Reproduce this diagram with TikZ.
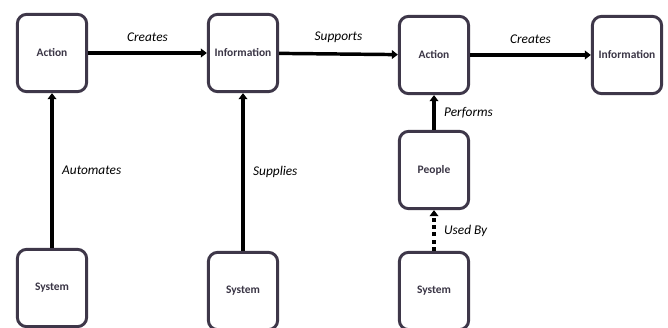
\documentclass[tikz,border=0pt]{standalone}
\usepackage{fontspec}
\setmainfont{Carlito}
\usetikzlibrary{arrows.meta,positioning}
\definecolor{boxline}{HTML}{3E3749}
\definecolor{boxtext}{HTML}{3A3545}
\tikzset{
  box/.style={draw=boxline, line width=2.2pt, rounded corners=7pt,
    minimum width=52pt, minimum height=58pt, inner sep=0pt,
    text=boxtext, font=\bfseries\fontsize{8.6}{10}\selectfont},
  link/.style={line width=2.6pt, -{Triangle[length=4.5pt,width=6.5pt]}},
  dotlink/.style={link, dash pattern=on 3pt off 2.5pt},
  lbl/.style={font=\itshape\fontsize{10}{12}\selectfont}
}
\begin{document}
\begin{tikzpicture}[x=0.75pt,y=-0.75pt]
  \useasboundingbox (0,0) rectangle (668,328);
  % top row
  \node[box] (act1) at (52,53) {Action};
  \node[box] (info1) at (243,53) {Information};
  \node[box] (act2) at (434,55) {Action};
  \node[box] (info2) at (627,55) {Information};
  % people and systems
  \node[box] (ppl) at (434,170) {People};
  \node[box] (sys1) at (52,288) {System};
  \node[box] (sys2) at (243,291) {System};
  \node[box] (sys3) at (434,291) {System};

  \draw[link](act1)--(info1)node[midway, above=4pt, lbl]{Creates};
  \draw[link](info1)--(act2)node[midway, above=4pt, lbl]{Supports};
  \draw[link](act2)--(info2)node[midway, above=4pt, lbl]{Creates};
  \draw[link](sys1)--(act1)node[midway, right=3pt, lbl]{Automates};
  \draw[link](sys2)--(info1)node[midway, right=3pt, lbl]{Supplies};
  \draw[link](ppl)--(act2)node[midway, right=3pt, lbl]{Performs};
  \draw[dotlink](sys3)--(ppl)node[midway, right=3pt, lbl]{Used By};
\end{tikzpicture}
\end{document}
